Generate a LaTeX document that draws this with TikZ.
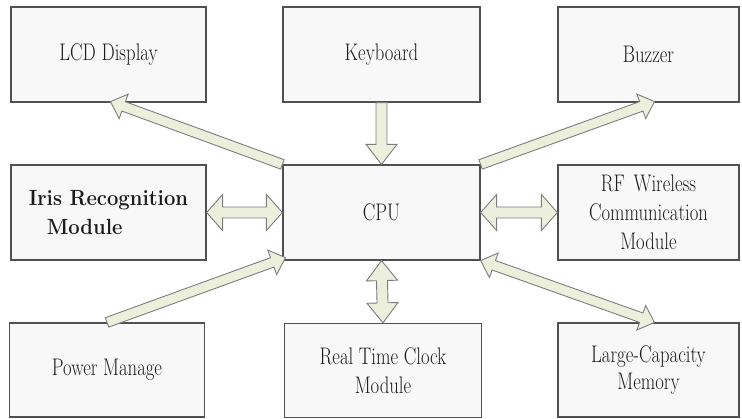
\documentclass[tikz,border=0pt]{standalone}
\usepackage{graphicx}
\usetikzlibrary{calc}
\definecolor{boxfill}{RGB}{248,248,248}
\definecolor{boxline}{RGB}{80,80,80}
\definecolor{arrfill}{RGB}{237,239,221}
\definecolor{arrline}{RGB}{125,125,125}
\definecolor{txt}{RGB}{28,28,28}
\newcommand\sq[1]{\scalebox{0.78}[1]{#1}}
\tikzset{
  block/.style={draw=boxline, fill=boxfill, line width=1.2pt, rectangle,
    minimum height=95pt, inner sep=2pt, text=txt, align=center,
    font=\fontsize{24}{29}\selectfont},
  colA/.style={minimum width=195pt},
  colB/.style={minimum width=197pt},
  colC/.style={minimum width=181pt},
  blockarrow/.style={draw=arrline, fill=arrfill, line width=0.9pt, line join=miter}
}
% single block arrow: from, to, shaft half width, head half width, head length
\newcommand\blockarr[5]{%
  \filldraw[blockarrow] ($(#1)!#3!90:(#2)$)
    -- ($(#2)!#5!(#1)!#3!-90:(#1)$) -- ($(#2)!#5!(#1)!#4!-90:(#1)$)
    -- (#2)
    -- ($(#2)!#5!(#1)!#4!90:(#1)$) -- ($(#2)!#5!(#1)!#3!90:(#1)$)
    -- ($(#1)!#3!-90:(#2)$) -- cycle;}
% double block arrow
\newcommand\dblockarr[5]{%
  \filldraw[blockarrow] (#1)
    -- ($(#1)!#5!(#2)!#4!90:(#2)$) -- ($(#1)!#5!(#2)!#3!90:(#2)$)
    -- ($(#2)!#5!(#1)!#3!-90:(#1)$) -- ($(#2)!#5!(#1)!#4!-90:(#1)$)
    -- (#2)
    -- ($(#2)!#5!(#1)!#4!90:(#1)$) -- ($(#2)!#5!(#1)!#3!90:(#1)$)
    -- ($(#1)!#5!(#2)!#3!-90:(#2)$) -- ($(#1)!#5!(#2)!#4!-90:(#2)$)
    -- cycle;}
\begin{document}
\begin{tikzpicture}[x=1pt,y=1pt]
\useasboundingbox (0,0) rectangle (742,419);
% row 1
\node[block,colA] (lcd) at (108.5,364.5) {\sq{LCD Display}};
\node[block,colB] (kbd) at (381.5,364.5) {\sq{Keyboard}};
\node[block,colC] (buz) at (648.5,364.5) {\sq{Buzzer}};
% row 2
\node[block,colA,align=left,font=\fontsize{22}{29}\selectfont\bfseries] (iris) at (108.5,206.5) {\scalebox{0.92}[1]{Iris Recognition}\\\hspace*{18pt}\scalebox{0.92}[1]{Module}};
\node[block,colB] (cpu) at (381.5,206.5) {\sq{CPU}};
\node[block,colC] (rf) at (648.5,206.5) {\sq{RF\, Wireless}\\\sq{Communication}\\\sq{Module}};
% row 3
\node[block,colA,minimum height=94pt] (pwr) at (107,49) {\sq{Power Manage}};
\node[block,colB,minimum height=94pt] (rtc) at (383,48.5) {\sq{Real Time Clock}\\\sq{Module}};
\node[block,colC,minimum height=94pt,font=\fontsize{24}{27}\selectfont] (mem) at (648.5,49) {\sq{Large-Capacity}\\\sq{Memory}};
% free ends
\coordinate (lcdtip) at ($(lcd.south)+(2,1)$);
\coordinate (buztip) at ($(buz.south)+(6,1)$);
\coordinate (cpupwr) at ($(cpu.south west)+(3,3)$);
\coordinate (memtip) at ($(mem.north)+(6,0)$);
% arrows
\blockarr{cpu.north west}{lcdtip}{5pt}{13pt}{14pt}
\blockarr{cpu.north east}{buztip}{5pt}{13pt}{14pt}
\blockarr{pwr.north}{cpupwr}{5pt}{13pt}{14pt}
\dblockarr{cpu.south east}{memtip}{5pt}{13pt}{14pt}
\blockarr{kbd.south}{cpu.north}{5.5pt}{15.5pt}{20pt}
\dblockarr{cpu.south}{rtc.north}{5.5pt}{15.5pt}{20pt}
\dblockarr{iris.east}{cpu.west}{5.5pt}{18pt}{16pt}
\dblockarr{cpu.east}{rf.west}{5.5pt}{18pt}{16pt}
\end{tikzpicture}
\end{document}
